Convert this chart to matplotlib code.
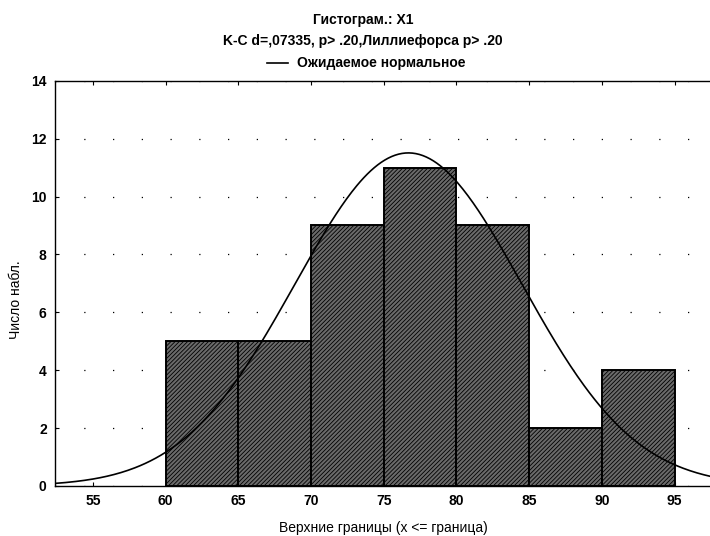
import numpy as np
import matplotlib
matplotlib.use("Agg")
import matplotlib.pyplot as plt
from matplotlib.lines import Line2D

# Data
bin_edges = [60, 65, 70, 75, 80, 85, 90, 95]
counts = [5, 5, 9, 11, 9, 2, 4]
x_ticks = [55, 60, 65, 70, 75, 80, 85, 90, 95]
y_ticks = [0, 2, 4, 6, 8, 10, 12, 14]
# Expected normal parameters (fitted curve)
n_obs = 45
mean_x = 76.7
sd_x = 7.8
bin_width = 5

title1 = "Гистограм.: X1"
title2 = "K-C d=,07335, p> .20,Лиллиефорса p> .20"
legend_text = "Ожидаемое нормальное"
xlabel = "Верхние границы (x <= граница)"
ylabel = "Число набл."

plt.rcParams['font.family'] = ['Liberation Sans Narrow', 'Liberation Sans', 'DejaVu Sans']
plt.rcParams['hatch.linewidth'] = 0.6

fig = plt.figure(figsize=(7.1, 5.36), dpi=100)
ax = fig.add_axes([0.0775, 0.0933, 0.975, 0.756])

lefts = bin_edges[:-1]
ax.bar(lefts, counts, width=bin_width, align='edge', facecolor='#6a6a6a',
       edgecolor='black', linewidth=1.4, hatch='////////', zorder=2)

xs = np.linspace(52.4, 100, 400)
ys = n_obs * bin_width / (sd_x * np.sqrt(2 * np.pi)) * np.exp(-0.5 * ((xs - mean_x) / sd_x) ** 2)
ax.plot(xs, ys, color='black', linewidth=1.2, zorder=3)

ax.set_xlim(52.4, 100)
ax.set_ylim(0, 14)
ax.set_xticks(x_ticks)
ax.set_yticks(y_ticks)
ax.tick_params(direction='in', length=3, top=True, right=False, width=0.8,
               labelsize=10, pad=6)
for lab in ax.get_xticklabels() + ax.get_yticklabels():
    lab.set_fontweight('bold')
ax.grid(True, axis='y', color='black', linestyle=(0, (1, 22)), linewidth=0.9, zorder=1)
ax.spines['right'].set_visible(False)
for s in ['left', 'bottom', 'top']:
    ax.spines[s].set_linewidth(1.0)

fig.text(16 / 710, 1 - 300 / 536, ylabel, rotation=90, ha='center', va='center', fontsize=10)
fig.text(383 / 710, 1 - 528 / 536, xlabel, ha='center', va='center', fontsize=10)

fig.text(363 / 710, 1 - 20 / 536, title1, ha='center', va='center', fontsize=10, fontweight='bold')
fig.text(363 / 710, 1 - 41 / 536, title2, ha='center', va='center', fontsize=10, fontweight='bold')
fig.add_artist(Line2D([267 / 710, 288 / 710], [1 - 63 / 536, 1 - 63 / 536],
                      color='black', linewidth=1.2, transform=fig.transFigure))
fig.text(297 / 710, 1 - 63 / 536, legend_text, ha='left', va='center', fontsize=10, fontweight='bold')

fig.savefig("out.png", dpi=100)
